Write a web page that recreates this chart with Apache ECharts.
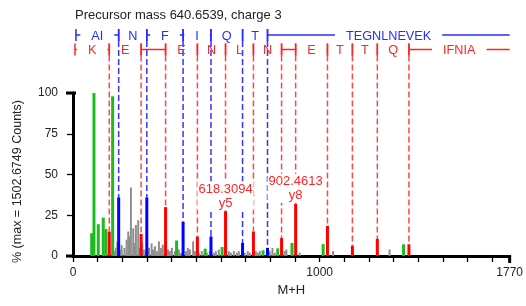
<!DOCTYPE html>
<html>
<head>
<meta charset="utf-8">
<script src="https://cdn.jsdelivr.net/npm/echarts@6/dist/echarts.min.js"></script>
<style>
html, body { margin: 0; padding: 0; background: #fff; }
#main { width: 526px; height: 306px; }
</style>
</head>
<body>
<div id="main"></div>
<script>
// ---- data ----
var title = 'Precursor mass 640.6539, charge 3';
var yName = '% (max = 1502.6749 Counts)';
var xName = 'M+H';
var xMax = 1770;
var xShownLabels = [0, 1000, 1770];
var precursorMH = 1919.95;

// b ions (blue ladder + matched peaks)
var bStart = 12;
var bMz = [185.13, 299.17, 446.24, 559.32, 687.38, 788.43];
var bInt = [36, 36, 21, 12, 8, 5];
var bLabels = ['AI', 'N', 'F', 'I', 'Q', 'T', 'TEGNLNEVEK'];

// y ions (red ladder + matched peaks)
var yStart = 8;
var yMz = [147.11, 276.16, 375.22, 504.27, 618.31, 731.39, 845.44, 902.46, 1031.50, 1132.55, 1233.60, 1361.66];
var yInt = [15, 13.5, 30, 12, 27.5, 15, 11, 32, 18.5, 6.3, 10.5, 7.2];
var yLabels = ['K', 'E', '', 'E', 'N', 'L', 'N', '', 'E', 'T', 'T', 'Q', 'IFNIA'];

// other matched (green) peaks
var greenMz = [75.7, 85, 102.4, 122.7, 133.6, 160.7, 419.8, 535.6, 604.5, 770.4, 830, 887.8, 1014, 1340];
var greenInt = [14, 100, 19.5, 23.5, 16.5, 98, 9.5, 4.5, 5.5, 3.5, 4.7, 8, 7.3, 7.2];

// unmatched (gray) peaks
var grayMz = [166, 174, 179.4, 190, 197.2, 208.5, 217.4, 223.9, 230.8, 234.8, 244.1, 251, 255, 264.4, 271,
  280.6, 287, 295.5, 308, 318.6, 324, 332, 340, 348.2, 356, 364, 385, 393, 401, 413, 429, 437, 457.5,
  465.6, 473.7, 487, 494, 510, 522, 542.5, 554.7, 570.9, 579, 591, 631.6, 640, 652, 664, 672, 696,
  708.5, 716.6, 741, 749, 757, 797.6, 808.5, 818, 858, 865, 919, 1054, 1283];
var grayInt = [3, 5, 8.8, 4, 6.7, 5, 10, 15, 12, 42, 17, 8, 19, 22, 5,
  7.7, 4, 3, 5, 7.7, 4, 6, 3, 9, 5, 7, 4, 3, 5, 3, 4, 2, 3,
  5, 4, 9, 3, 2, 3, 2, 3, 2, 3, 4, 3, 2, 3, 2, 3, 2,
  3, 2, 3, 2, 3, 3, 5, 2, 3, 4, 2, 3, 4];

// annotated peaks
var annotMz = [618.31, 902.46];
var annotInt = [27.5, 32];
var annotText = ['618.3094\ny5', '902.4613\ny8'];

// ---- style ----
var FONT = '"Liberation Sans", Arial, sans-serif';
var BLUE = '#0000ff', RED = '#ff0000', GREEN = '#1fba1f', GRAY = '#8f8f8f';
var BLUE_TXT = '#2b2bff', RED_TXT = '#ff2424';
var BLUE_DASH = '#3535ff', RED_DASH = '#ff4848';
var ROW_OFF = [58, 43.5];   // ladder row centres, px above the 100 % line
var LADDER_FONT = '12.7px ' + FONT;

var mctx = document.createElement('canvas').getContext('2d');
mctx.font = LADDER_FONT;

function barSeries(mz, ints, color, width, z) {
    return {
        type: 'custom',
        silent: true,
        z: z,
        data: mz.map(function (m, i) { return [m, ints[i]]; }),
        encode: { x: 0, y: 1 },
        renderItem: function (params, api) {
            var top = api.coord([api.value(0), api.value(1)]);
            var base = api.coord([api.value(0), 0]);
            return {
                type: 'rect',
                shape: { x: top[0] - width / 2, y: top[1], width: width, height: base[1] - top[1] },
                style: { fill: color }
            };
        }
    };
}

// ladder segments: [fromMz, toMz, row, labelIndex]
var ladderData = [];
var bBounds = [bStart].concat(bMz, [precursorMH]);
for (var i = 0; i < bBounds.length - 1; i++) ladderData.push([bBounds[i], bBounds[i + 1], 0, i]);
var yBounds = [yStart].concat(yMz, [precursorMH]);
for (var j = 0; j < yBounds.length - 1; j++) ladderData.push([yBounds[j], yBounds[j + 1], 1, j]);
var ladderLabels = [bLabels, yLabels];

function seg(x1, y1, x2, y2, color) {
    return { type: 'line', shape: { x1: x1, y1: y1, x2: x2, y2: y2 }, style: { stroke: color, lineWidth: 1.5 } };
}

var ladderSeries = {
    type: 'custom',
    silent: true,
    clip: false,
    z: 5,
    data: ladderData,
    encode: { x: [0, 1] },
    renderItem: function (params, api) {
        var row = api.value(2);
        var lbl = ladderLabels[row][api.value(3)];
        var color = row === 0 ? BLUE_TXT : RED_TXT;
        var to = api.value(1);
        var x0 = api.coord([api.value(0), 100])[0];
        var x1 = api.coord([Math.min(to, xMax), 100])[0];
        var y = api.coord([0, 100])[1] - ROW_OFF[row];
        var ch = [seg(x0, y - 6, x0, y + 6, color)];
        if (to <= xMax) ch.push(seg(x1, y - 6, x1, y + 6, color));
        if (lbl) {
            var cx = (x0 + x1) / 2;
            var g = mctx.measureText(lbl).width / 2 + 11;
            if (cx - g > x0) ch.push(seg(x0, y, cx - g, y, color));
            if (cx + g < x1) ch.push(seg(cx + g, y, x1, y, color));
            ch.push({
                type: 'text',
                style: { text: lbl, x: cx, y: y + 1, align: 'center', verticalAlign: 'middle', fill: color, font: LADDER_FONT }
            });
        } else {
            ch.push(seg(x0, y, x1, y, color));
        }
        return { type: 'group', children: ch };
    }
};

// dashed guide lines from ladder row down to the matched peak
var dashData = bMz.map(function (m, i) { return [m, bInt[i], 0]; })
    .concat(yMz.map(function (m, i) { return [m, yInt[i], 1]; }));
var dashSeries = {
    type: 'custom',
    silent: true,
    clip: false,
    z: 2,
    data: dashData,
    encode: { x: 0, y: 1 },
    renderItem: function (params, api) {
        var row = api.value(2);
        var top = api.coord([api.value(0), api.value(1)]);
        var y0 = api.coord([0, 100])[1] - ROW_OFF[row] + 6;
        return {
            type: 'line',
            shape: { x1: top[0], y1: y0, x2: top[0], y2: top[1] },
            style: { stroke: row === 0 ? BLUE_DASH : RED_DASH, lineWidth: 1.5, lineDash: [6, 3] }
        };
    }
};

var annotSeries = {
    type: 'custom',
    silent: true,
    clip: false,
    z: 8,
    data: annotMz.map(function (m, i) { return [m, annotInt[i], i]; }),
    encode: { x: 0, y: 1 },
    renderItem: function (params, api) {
        var top = api.coord([api.value(0), api.value(1)]);
        return {
            type: 'text',
            style: {
                text: annotText[api.value(2)], x: top[0], y: top[1] - 1,
                align: 'center', verticalAlign: 'bottom', lineHeight: 14,
                fill: RED_TXT, font: '13px ' + FONT,
                backgroundColor: '#fff', padding: [1, 1, 0, 1]
            }
        };
    }
};

// thick end caps of the axis frame
var capSeries = {
    type: 'custom',
    silent: true,
    clip: false,
    z: 10,
    data: [[0, 100, 0], [xMax, 0, 1], [0, 0, 2]],
    encode: { x: 0, y: 1 },
    renderItem: function (params, api) {
        var p = api.coord([api.value(0), api.value(1)]);
        var k = api.value(2);
        var st = { stroke: '#000', lineWidth: 3 };
        if (k === 0) return { type: 'line', shape: { x1: p[0] - 7, y1: p[1], x2: p[0] + 3, y2: p[1] }, style: st };
        if (k === 1) return { type: 'line', shape: { x1: p[0], y1: p[1] - 1, x2: p[0], y2: p[1] + 7 }, style: st };
        return { type: 'line', shape: { x1: p[0] - 7, y1: p[1], x2: p[0], y2: p[1] }, style: st };
    }
};

var chart = echarts.init(document.getElementById('main'));
var option = {
    animation: false,
    backgroundColor: '#fff',
    title: {
        text: title,
        left: 70,
        top: 4,
        textStyle: { fontFamily: FONT, fontSize: 13, fontWeight: 'normal', color: '#222' }
    },
    grid: { left: 73, right: 16, top: 93, bottom: 50 },
    xAxis: {
        type: 'value',
        min: 0,
        max: xMax,
        interval: 100,
        name: xName,
        nameLocation: 'middle',
        nameGap: 24,
        nameTextStyle: { fontFamily: FONT, fontSize: 13, color: '#222' },
        axisLine: { lineStyle: { color: '#000', width: 3 } },
        axisTick: { length: 6, lineStyle: { color: '#000', width: 1.3 } },
        splitLine: { show: false },
        axisLabel: {
            showMaxLabel: true,
            margin: 11,
            fontFamily: FONT, fontSize: 12, color: '#222',
            formatter: function (v) { return xShownLabels.indexOf(v) >= 0 ? String(v) : ''; }
        }
    },
    yAxis: {
        type: 'value',
        min: 0,
        max: 100,
        interval: 25,
        name: yName,
        nameLocation: 'middle',
        nameGap: 49,
        nameTextStyle: { fontFamily: FONT, fontSize: 12.5, color: '#222', padding: [0, 14, 0, 0] },
        axisLine: { lineStyle: { color: '#000', width: 3 } },
        axisTick: { length: 6, lineStyle: { color: '#000', width: 1.3 } },
        splitLine: { show: false },
        axisLabel: { margin: 15, fontFamily: FONT, fontSize: 12, color: '#222' }
    },
    series: [
        barSeries(grayMz, grayInt, GRAY, 2, 3),
        barSeries(greenMz, greenInt, GREEN, 3, 4),
        barSeries(bMz, bInt, BLUE, 3, 4),
        barSeries(yMz, yInt, RED, 3, 4),
        dashSeries,
        ladderSeries,
        annotSeries,
        capSeries
    ]
};
chart.setOption(option);
</script>
</body>
</html>
